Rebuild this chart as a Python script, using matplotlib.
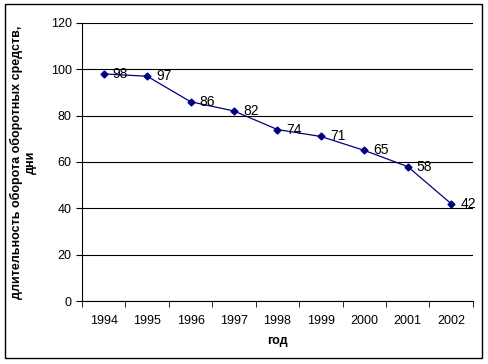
import numpy as np
import matplotlib.pyplot as plt
from matplotlib.patches import Rectangle

plt.rcParams['font.family'] = ['Liberation Sans', 'DejaVu Sans']

years = ['1994', '1995', '1996', '1997', '1998', '1999', '2000', '2001', '2002']
days = [98, 97, 86, 82, 74, 71, 65, 58, 42]


def main():
    fig = plt.figure(figsize=(4.88, 3.64), dpi=100)
    ax = fig.add_axes([0.168, 0.173, 0.801, 0.764])

    x = np.arange(len(years))
    ax.plot(x, days, color='#000080', lw=0.9, marker='D', ms=3.5, zorder=3)
    for xi, v in zip(x, days):
        ax.annotate(str(v), (xi, v), xytext=(6.5, 0), textcoords='offset points',
                    va='center', ha='left', fontsize=10)

    ax.set_xlim(-0.5, len(years) - 0.5)
    ax.set_ylim(0, 120)
    ax.set_yticks(range(0, 121, 20))
    ax.yaxis.grid(True, color='black', lw=0.8)
    ax.set_axisbelow(True)

    ax.set_xticks(x)
    ax.set_xticklabels(years, fontsize=9)
    ax.tick_params(axis='x', length=0, pad=10)
    ax.set_xticks(np.arange(-0.5, len(years)), minor=True)
    ax.tick_params(axis='x', which='minor', length=4, direction='out')
    ax.tick_params(axis='y', length=4, direction='out', labelsize=9)

    ax.spines['top'].set_visible(False)
    ax.spines['right'].set_visible(False)

    ax.set_xlabel('год', fontsize=9, fontweight='bold', labelpad=6)
    ax.set_ylabel('длительность оборота оборотных средств,\nдни', fontsize=9,
                  fontweight='bold', labelpad=10)

    fig.patches.append(Rectangle((0.0102, 0.0165), 0.977, 0.9725, transform=fig.transFigure,
                                 fill=False, edgecolor='black', lw=1))

    fig.savefig('out.png', dpi=100)


if __name__ == '__main__':
    main()
